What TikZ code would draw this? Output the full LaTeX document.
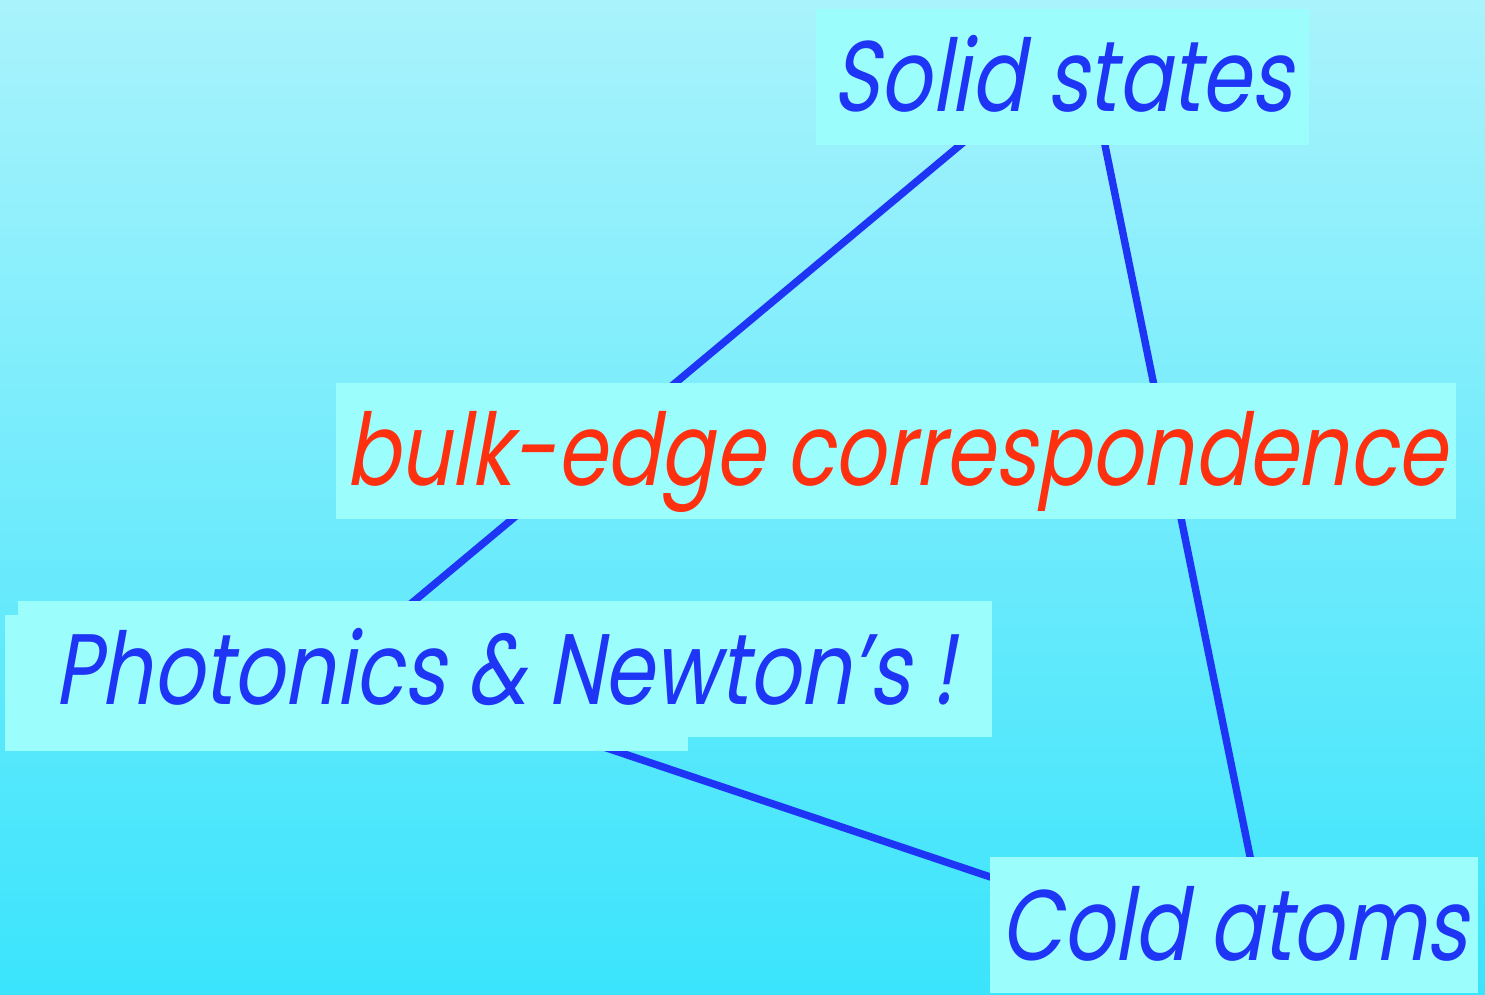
\documentclass[tikz,border=0pt]{standalone}
\usepackage{fontspec}
\newfontfamily\fieldfont[FakeSlant=0.18,FakeStretch=0.8]{Poppins}
\usetikzlibrary{positioning}
\definecolor{skytop}{HTML}{A9F3FC}
\definecolor{skybot}{HTML}{3AE4FC}
\definecolor{boxcyan}{HTML}{9CFDFD}
\definecolor{linkblue}{HTML}{1F35F5}
\definecolor{hotred}{HTML}{FF3010}
\pgfdeclarelayer{back}
\pgfsetlayers{back,main}
\begin{document}
\begin{tikzpicture}[x=0.1mm,y=-0.1mm,
every node/.style={fill=boxcyan,inner sep=0pt,text height=10.3mm,text depth=3.3mm,
  text=linkblue,font=\fieldfont\fontsize{28.5}{34}\selectfont},
link/.style={draw=linkblue,line width=2.1pt,shorten <=-4pt,shorten >=-4pt}]
\useasboundingbox (0,0) rectangle (1485,994);
\node[minimum width=49.3mm] (solid) at (1062.5,76.5) {Solid states};
\node[minimum width=112mm,text=hotred] (bulk) at (896,450.5) {bulk-edge correspondence};
\node[minimum width=48.8mm] (cold) at (1234,925) {Cold atoms};
% box left under the photonics label
\fill[boxcyan] (5,615) rectangle (688,751);
\node[minimum width=97.4mm,inner xsep=2mm] (photo) at (505,669) {Photonics \& Newton’s !};
\begin{pgfonlayer}{back}
\shade[top color=skytop,bottom color=skybot] (0,0) rectangle (1485,994);
\draw[link] ([xshift=-10.25mm]solid.south)--([xshift=-9mm]photo.north);
\draw[link] ([xshift=4.25mm]solid.south)--([xshift=1.6mm]cold.north);
\draw[link] ([xshift=7.1mm]photo.south)--([yshift=4.84mm]cold.west);
\end{pgfonlayer}
\end{tikzpicture}
\end{document}
